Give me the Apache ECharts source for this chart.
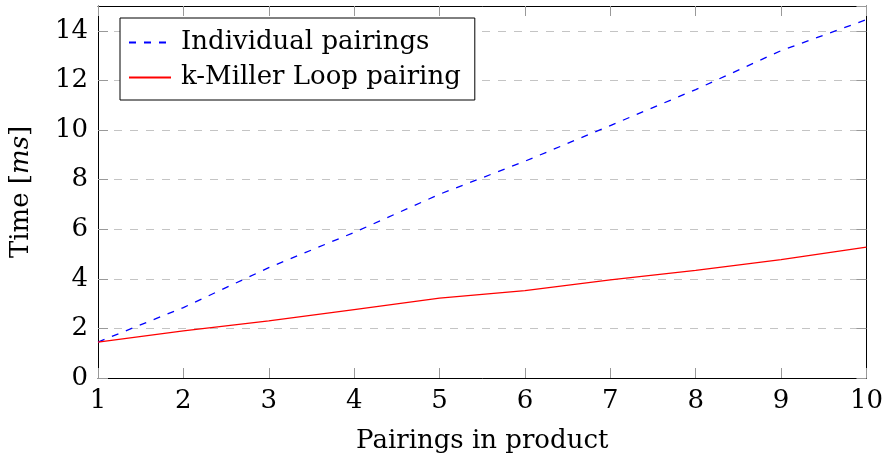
<!DOCTYPE html>
<html>
<head>
<meta charset="utf-8">
<script src="https://cdn.jsdelivr.net/npm/echarts@6/dist/echarts.min.js"></script>
<style>html,body{margin:0;padding:0;background:#fff}#c{width:886px;height:462px}</style>
</head>
<body>
<div id="c"></div>
<script>
var pairings = [1, 2, 3, 4, 5, 6, 7, 8, 9, 10];
var individual = [1.45, 2.84, 4.45, 5.87, 7.41, 8.74, 10.18, 11.63, 13.2, 14.45];
var kMiller = [1.45, 1.9, 2.3, 2.76, 3.22, 3.52, 3.96, 4.34, 4.77, 5.28];
var seriesNames = ['Individual pairings', 'k-Miller Loop pairing'];

function pairs(xs, ys) { return xs.map(function (x, i) { return [x, ys[i]]; }); }

var FONT = 'DejaVu Serif';
var tickStyle = { show: true, inside: true, length: 10, lineStyle: { color: '#999', width: 1 } };
var chart = echarts.init(document.getElementById('c'), null, { renderer: 'canvas' });
chart.setOption({
  animation: false,
  backgroundColor: '#fff',
  textStyle: { fontFamily: FONT },
  grid: { left: 96, right: 18, top: 6, bottom: 84, show: false },
  legend: {
    orient: 'vertical', left: 120, top: 18,
    padding: [10, 14, 8, 8], itemGap: 6, itemWidth: 42, itemHeight: 14,
    backgroundColor: '#fff', borderColor: '#000', borderWidth: 1, borderRadius: 0,
    itemStyle: { opacity: 0 },
    textStyle: { fontFamily: FONT, fontSize: 26, color: '#000', lineHeight: 29, padding: [0, 0, 0, 5] },
    data: seriesNames
  },
  xAxis: [{
    type: 'value', min: 1, max: 10, interval: 1,
    name: 'Pairings in product', nameLocation: 'middle', nameGap: 50,
    nameTextStyle: { fontFamily: FONT, fontSize: 26, color: '#000' },
    axisLine: { show: true, lineStyle: { color: '#000', width: 1 } },
    axisTick: tickStyle,
    axisLabel: { fontFamily: FONT, fontSize: 26, color: '#000', margin: 10 },
    splitLine: { show: false }
  }, {
    type: 'value', min: 1, max: 10, interval: 1, position: 'top',
    axisLine: { show: true, onZero: false, lineStyle: { color: '#000', width: 1 } },
    axisTick: tickStyle, axisLabel: { show: false }, splitLine: { show: false }
  }],
  yAxis: [{
    type: 'value', min: 0, max: 15, interval: 2,
    name: 'Time [{i|ms}]', nameLocation: 'middle', nameGap: 64, nameRotate: 90,
    nameTextStyle: { fontFamily: FONT, fontSize: 26, color: '#000',
      rich: { i: { fontFamily: FONT, fontSize: 26, fontStyle: 'italic', color: '#000' } } },
    axisLine: { show: true, onZero: false, lineStyle: { color: '#000', width: 1 } },
    axisTick: tickStyle,
    axisLabel: { fontFamily: FONT, fontSize: 26, color: '#000', margin: 10, showMaxLabel: false },
    splitLine: { show: true, showMinLine: false, showMaxLine: false, lineStyle: { color: '#c4c4c4', width: 1, type: [8, 8] } }
  }, {
    type: 'value', min: 0, max: 15, interval: 2, position: 'right',
    axisLine: { show: true, onZero: false, lineStyle: { color: '#000', width: 1 } },
    axisTick: tickStyle, axisLabel: { show: false }, splitLine: { show: false }
  }],
  series: [{
    name: seriesNames[0], type: 'line', symbol: 'none', data: pairs(pairings, individual),
    lineStyle: { color: '#0000ff', width: 1.3, type: [7, 8] }, itemStyle: { color: '#0000ff' }
  }, {
    name: seriesNames[1], type: 'line', symbol: 'none', data: pairs(pairings, kMiller),
    lineStyle: { color: '#ff0000', width: 1.3, type: 'solid' }, itemStyle: { color: '#ff0000' }
  }, {
    name: 'frame', type: 'line', symbol: 'none', xAxisIndex: 1, yAxisIndex: 1, data: [],
    silent: true
  }]
});
</script>
</body>
</html>
